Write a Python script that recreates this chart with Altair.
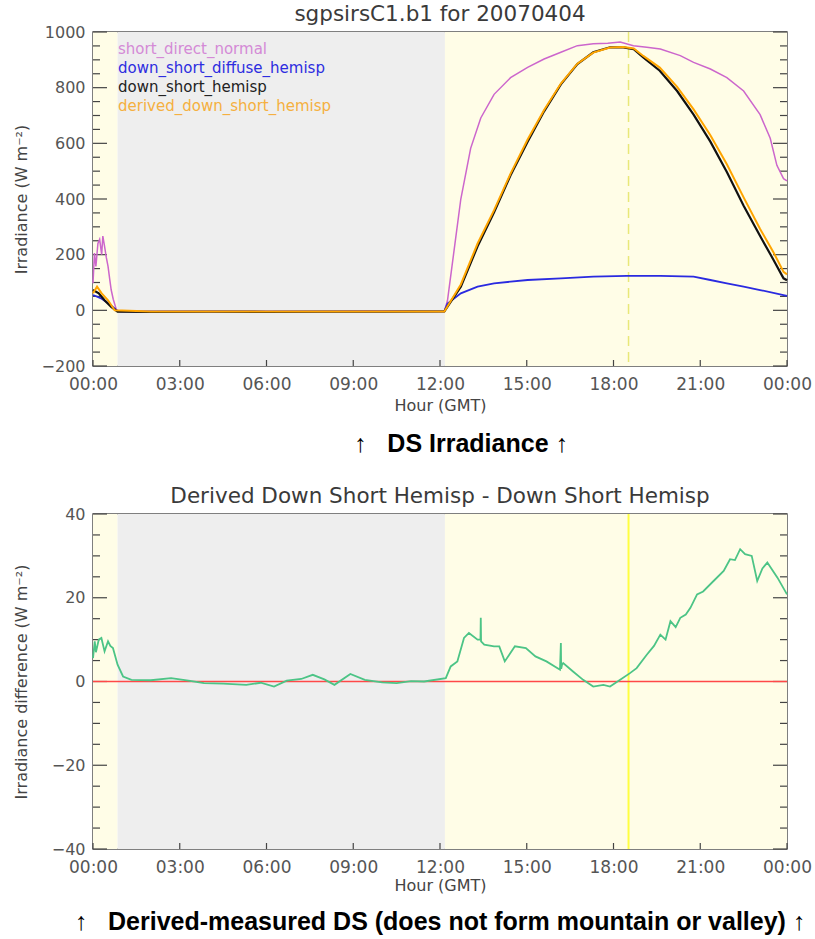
import altair as alt
import pandas as pd

# ---------------- texts ----------------
TITLE_TOP = "sgpsirsC1.b1 for 20070404"
TITLE_BOTTOM = "Derived Down Short Hemisp - Down Short Hemisp"
CAPTION_TOP = "↑\u00a0\u00a0 DS Irradiance\u00a0↑"
CAPTION_BOTTOM = "↑\u00a0\u00a0 Derived-measured DS (does not form mountain or valley)\u00a0↑"
X_TITLE = "Hour (GMT)"
Y_TITLE_TOP = "Irradiance (W m⁻²)"
Y_TITLE_BOTTOM = "Irradiance difference (W m⁻²)"
SERIES = ["short_direct_normal", "down_short_diffuse_hemisp",
          "down_short_hemisp", "derived_down_short_hemisp"]

# ---------------- axis ticks ----------------
X_TICKS = [0, 3, 6, 9, 12, 15, 18, 21, 24]
Y1_MAJOR = [-200, 0, 200, 400, 600, 800, 1000]
Y1_MINOR = [-150, -100, -50, 50, 100, 150, 250, 300, 350, 450, 500, 550,
            650, 700, 750, 850, 900, 950]
Y2_MAJOR = [-40, -20, 0, 20, 40]
Y2_MINOR = [-35, -30, -25, -15, -10, -5, 5, 10, 15, 25, 30, 35]

# ---------------- day / night bands ----------------
BAND_START = [0.0, 0.85, 12.17]
BAND_END = [0.85, 12.17, 24.0]
BAND_KIND = ["day", "night", "day"]
SOLAR_NOON = [18.52]
ZERO = [0]

# ---------------- series (hours, values) ----------------
SDN_H = [0.0, 0.05, 0.1, 0.17, 0.23, 0.3, 0.34, 0.4, 0.46, 0.52, 0.58, 0.63, 0.7, 0.8, 0.9,
         2.0, 4.0, 6.0, 8.0, 9.5, 10.5, 11.5, 12.15,
         12.26, 12.49, 12.72, 13.06, 13.41, 13.87, 14.44, 15.03, 15.6, 16.18, 16.75, 17.3,
         17.8, 18.23, 18.69, 19.15, 19.62, 20.31, 20.77, 21.35, 21.92, 22.5, 23.07, 23.42,
         23.65, 23.88, 24.0]
SDN_V = [97, 206, 158, 240, 255, 200, 267, 230, 190, 158, 110, 73, 40, 5, -4,
         -4, -4, -4, -4, -2, -2, -4, -4,
         36, 218, 400, 582, 691, 776, 836, 873, 903, 927, 951, 958,
         960, 964, 951, 945, 939, 915, 891, 867, 836, 788, 703, 618,
         521, 473, 465]

DIF_H = [0.0, 0.3, 0.6, 0.85, 2.0, 6.0, 10.0, 12.15,
         12.26, 12.72, 13.3, 13.87, 15.03, 16.18, 17.3, 18.47, 19.62, 20.77, 21.35,
         21.92, 22.5, 23.07, 23.88, 24.0]
DIF_V = [55, 42, 20, -3, -4, -4, -4, -3,
         24, 61, 85, 97, 109, 115, 121, 124, 124, 121, 109,
         97, 85, 73, 55, 52]

DSH_H = [0.0, 0.2, 0.4, 0.63, 0.85, 2.0, 4.0, 6.0, 8.0, 10.0, 12.15,
         12.72, 13.3, 13.87, 14.44, 15.03, 15.6, 16.18, 16.75, 17.3, 17.88, 18.34, 18.7,
         19.03, 19.6, 20.2, 20.77, 21.35, 21.92, 22.5, 23.07, 23.53, 23.88, 24.0]
DSH_V = [73, 61, 36, 12, -5, -6, -5, -6, -5, -5, -4,
         85, 230, 352, 485, 606, 715, 812, 885, 927, 945, 945, 938,
         909, 861, 788, 703, 606, 497, 376, 267, 182, 115, 108]

DER_H = [0.0, 0.14, 0.3, 0.52, 0.75, 2.0, 4.0, 6.0, 8.0, 10.0, 12.15,
         12.72, 13.3, 13.87, 14.44, 15.03, 15.6, 16.18, 16.75, 17.3, 17.88, 18.34, 18.7,
         19.03, 19.6, 20.2, 20.77, 21.35, 21.92, 22.5, 23.07, 23.53, 23.88, 24.0]
DER_V = [61, 85, 61, 36, 0, -4, -4, -4, -4, -4, -4,
         93, 240, 360, 491, 614, 720, 815, 886, 926, 944, 946, 941,
         914, 872, 803, 722, 629, 525, 406, 292, 209, 138, 129]

DIFF_H = [0.0, 0.06, 0.1, 0.2, 0.29, 0.4, 0.52, 0.6, 0.69, 0.85, 1.04, 1.33, 2.0, 2.7,
          3.3, 3.84, 4.5, 5.3, 5.8, 6.26, 6.7, 7.2, 7.6, 8.0, 8.35, 8.9, 9.4, 10.0, 10.5,
          11.0, 11.45, 12.2, 12.37, 12.6, 12.83, 13.0, 13.3, 13.4, 13.41, 13.42, 13.53,
          13.87, 14.05, 14.24, 14.59, 14.97, 15.3, 15.68, 16.15, 16.18, 16.19, 16.22, 16.26,
          16.6, 16.95, 17.3, 17.65, 17.88, 18.23, 18.57, 18.8, 19.15, 19.4, 19.62, 19.8,
          19.97, 20.15, 20.31, 20.5, 20.66, 20.89, 21.1, 21.46, 21.81, 22.03, 22.2, 22.38,
          22.55, 22.78, 22.97, 23.15, 23.32, 23.67, 24.0]
DIFF_V = [5.6, 9.6, 7.0, 10.0, 10.4, 7.2, 9.6, 8.5, 8.0, 4.0, 1.2, 0.4, 0.3, 0.8,
          0.2, -0.4, -0.5, -0.8, -0.3, -1.2, 0.2, 0.6, 1.6, 0.5, -0.8, 1.8, 0.4, -0.2, -0.4,
          0.1, 0.0, 0.8, 3.6, 4.8, 10.4, 11.6, 10.0, 10.0, 15.2, 9.6, 8.8,
          8.4, 8.4, 4.8, 8.4, 8.0, 6.0, 4.8, 2.8, 9.2, 3.0, 4.0, 4.4,
          2.4, 0.4, -1.2, -0.8, -1.2, 0.4, 2.0, 3.2, 6.4, 8.5, 11.2, 10.0,
          14.4, 13.0, 15.2, 16.0, 17.6, 20.8, 21.5, 24.0, 26.4, 29.2, 29.0, 31.6,
          30.4, 30.0, 24.0, 27.0, 28.4, 24.8, 20.8]

# ---------------- styling ----------------
FONT = "DejaVu Sans"
CAP_FONT = "Liberation Sans, DejaVu Sans"
W, H1, H2 = 694, 334, 335
C_DAY, C_NIGHT = "#fffde7", "#eeeeee"
C_SDN, C_DIF, C_DSH, C_DER, C_DIFF = "#cc66cc", "#2a2ae0", "#111111", "#ffa500", "#4cc486"
LEGEND_COLORS = ["#d48ad6", "#2d2de0", "#222222", "#f5b040"]

xs = alt.Scale(domain=[0, 24], nice=False, zero=False)
ys1 = alt.Scale(domain=[-200, 1000], nice=False, zero=False)
ys2 = alt.Scale(domain=[-40, 40], nice=False, zero=False)

LABEL_EXPR = ("(datum.value < 10 || datum.value == 24 ? '0' : '') + "
              "(datum.value == 24 ? 0 : datum.value) + ':00'")


def xaxis(title_y):
    return alt.Axis(values=X_TICKS, labelExpr=LABEL_EXPR, title=X_TITLE, ticks=False,
                    tickSize=0, domain=False, grid=False, labelFont=FONT, labelFontSize=17,
                    labelColor="#555", labelPadding=18, labelBaseline="middle",
                    labelFlush=False, labelOverlap=False, titleFont=FONT, titleFontSize=16,
                    titleFontWeight="normal", titleColor="#444", titleY=title_y,
                    titleBaseline="middle")


def yaxis(values, title, h):
    return alt.Axis(values=values, title=title, format="d", ticks=False, tickSize=0,
                    domain=False, grid=False, labelFont=FONT, labelFontSize=16,
                    labelColor="#555", labelPadding=8, labelFlush=False,
                    labelOverlap=False, titleFont=FONT, titleFontSize=16,
                    titleFontWeight="normal", titleColor="#444",
                    titleX=-67, titleY=h / 2, titleBaseline="alphabetic")


def bands(xa):
    df = pd.DataFrame({"start": BAND_START, "end": BAND_END, "kind": BAND_KIND})
    return alt.Chart(df).mark_rect().encode(
        x=alt.X("start:Q", scale=xs, axis=xa), x2="end:Q",
        color=alt.Color("kind:N", scale=alt.Scale(domain=["day", "night"],
                                                  range=[C_DAY, C_NIGHT]), legend=None))


def ticks(major, minor, ys, ya, xa, h):
    out = []
    for vals, ln in ((major, 14), (minor, 7)):
        d = pd.DataFrame({"v": vals})
        out.append(alt.Chart(d).mark_rule(color="#444", strokeWidth=1.2).encode(
            y=alt.Y("v:Q", scale=ys, axis=ya), x=alt.value(0), x2=alt.value(ln)))
        out.append(alt.Chart(d).mark_rule(color="#444", strokeWidth=1.2).encode(
            y=alt.Y("v:Q", scale=ys, axis=ya), x=alt.value(W), x2=alt.value(W - ln)))
    d = pd.DataFrame({"h": X_TICKS})
    out.append(alt.Chart(d).mark_rule(color="#444", strokeWidth=1.2).encode(
        x=alt.X("h:Q", scale=xs, axis=xa), y=alt.value(h), y2=alt.value(h - 6)))
    return out


def line(hs, vs, color, width, ys, ya, xa):
    d = pd.DataFrame({"h": hs, "v": vs})
    return alt.Chart(d).mark_line(color=color, strokeWidth=width).encode(
        x=alt.X("h:Q", scale=xs, axis=xa), y=alt.Y("v:Q", scale=ys, axis=ya))


def caption(text, cx, cy):
    return alt.Chart(pd.DataFrame({"t": [text]})).mark_text(
        font=CAP_FONT, fontSize=25, fontWeight="bold", color="#000",
        baseline="middle", align="center").encode(
        x=alt.value(cx), y=alt.value(cy), text="t:N")


def panel_title(text, cy):
    return alt.Chart(pd.DataFrame({"t": [text]})).mark_text(
        font=FONT, fontSize=21.5, color="#3a3a3a", baseline="middle", align="center").encode(
        x=alt.value(W / 2), y=alt.value(cy), text="t:N")


# ---------------- top panel ----------------
xa1 = xaxis(39)
ya1 = yaxis(Y1_MAJOR, Y_TITLE_TOP, H1)
noon1 = alt.Chart(pd.DataFrame({"h": SOLAR_NOON})).mark_rule(
    color="#e8e878", strokeWidth=1.5, strokeDash=[10, 6]).encode(
    x=alt.X("h:Q", scale=xs, axis=xa1))
legend_layers = []
for i, (name, col) in enumerate(zip(SERIES, LEGEND_COLORS)):
    legend_layers.append(alt.Chart(pd.DataFrame({"t": [name]})).mark_text(
        font=FONT, fontSize=15, color=col, align="left", baseline="middle").encode(
        x=alt.value(25), y=alt.value(17 + 19 * i), text="t:N"))

top = alt.layer(
    bands(xa1),
    noon1,
    *ticks(Y1_MAJOR, Y1_MINOR, ys1, ya1, xa1, H1),
    line(SDN_H, SDN_V, C_SDN, 1.5, ys1, ya1, xa1),
    line(DIF_H, DIF_V, C_DIF, 1.8, ys1, ya1, xa1),
    line(DSH_H, DSH_V, C_DSH, 2.2, ys1, ya1, xa1),
    line(DER_H, DER_V, C_DER, 2.0, ys1, ya1, xa1),
    *legend_layers,
    panel_title(TITLE_TOP, -17),
    caption(CAPTION_TOP, 462 - 94, 442 - 30),
).properties(width=W, height=H1)

# ---------------- bottom panel ----------------
xa2 = xaxis(36)
ya2 = yaxis(Y2_MAJOR, Y_TITLE_BOTTOM, H2)
noon2 = alt.Chart(pd.DataFrame({"h": SOLAR_NOON})).mark_rule(
    color="#ffff40", strokeWidth=2).encode(x=alt.X("h:Q", scale=xs, axis=xa2))
zero = alt.Chart(pd.DataFrame({"v": ZERO})).mark_rule(
    color="#ff4848", strokeWidth=1.5).encode(y=alt.Y("v:Q", scale=ys2, axis=ya2))

bottom = alt.layer(
    bands(xa2),
    noon2,
    *ticks(Y2_MAJOR, Y2_MINOR, ys2, ya2, xa2, H2),
    zero,
    line(DIFF_H, DIFF_V, C_DIFF, 1.8, ys2, ya2, xa2),
    panel_title(TITLE_BOTTOM, -17),
    caption(CAPTION_BOTTOM, 441 - 94, 920 - 512),
).properties(width=W, height=H2)

chart = alt.vconcat(top, bottom, spacing=148, bounds="flush").configure_view(
    stroke="#555", strokeWidth=1.5).properties(
    background="white", padding={"left": 12, "top": 3, "right": 0, "bottom": 0})

chart.save("out.html", embed_options={"renderer": "svg", "actions": False})
